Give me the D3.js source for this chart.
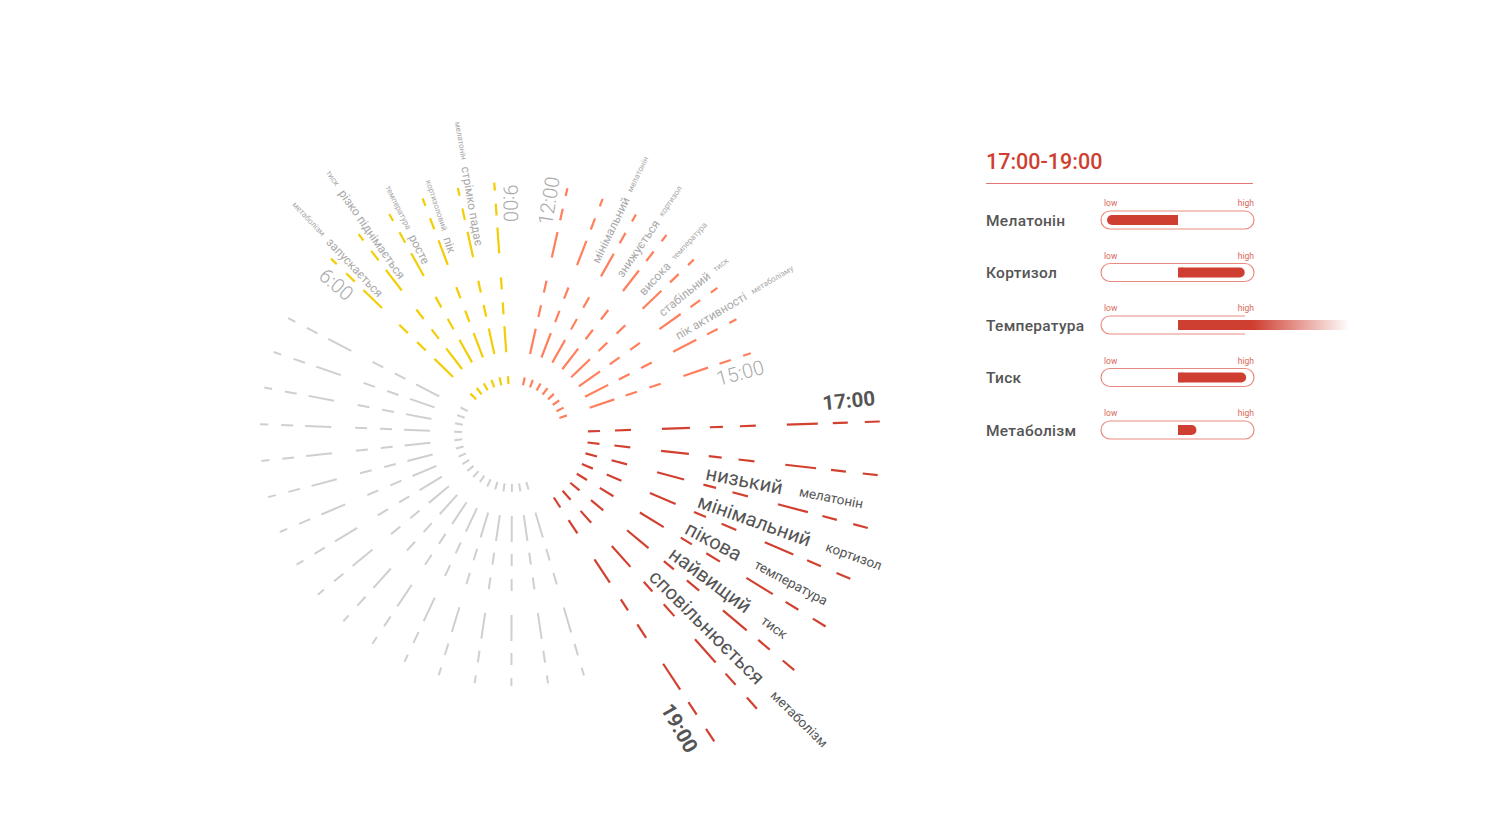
<!DOCTYPE html>
<html><head><meta charset="utf-8">
<script src="https://cdn.jsdelivr.net/npm/d3@7"></script>
<style>
body{margin:0;background:#fff;}
svg{display:block;font-family:Roboto,"Noto Sans",sans-serif;}
</style>
</head><body>
<svg id="chart" width="1496" height="820"></svg>
<script>
// ---------------- DATA ----------------
// periods around the clock, clockwise, starting with the morning
const periodStart  = ["6:00", "12:00", "17:00", "19:00"];
const periodEnd    = ["9:00", "15:00", "19:00", "6:00"];
const periodSpokes = [6, 8, 8, 17];
const periodHasLabels = [true, true, true, false];
const highlightedPeriod = 2;

// state text (big) and metric name (small) for spokes 1..5 of each labelled period
const morningStates  = ["запускається", "різко піднімається", "росте", "пік", "стрімко падає"];
const morningMetrics = ["метаболізм", "тиск", "температура", "кортизоловий", "мелатонін"];
const middayStates   = ["мінімальний", "знижується", "висока", "стабільний", "пік активності"];
const middayMetrics  = ["мелатонін", "кортизол", "температура", "тиск", "метаболізму"];
const eveningStates  = ["низький", "мінімальний", "пікова", "найвищий", "сповільнюється"];
const eveningMetrics = ["мелатонін", "кортизол", "температура", "тиск", "метаболізм"];
const periodStates  = [morningStates, middayStates, eveningStates, []];
const periodMetrics = [morningMetrics, middayMetrics, eveningMetrics, []];

// right panel
const panelTitle  = "17:00-19:00";
const metricNames = ["Мелатонін", "Кортизол", "Температура", "Тиск", "Метаболізм"];
const levelFrom   = [0, 0.5, 0.5, 0.5, 0.5];
const levelTo     = [0.5, 0.97, 1.71, 0.98, 0.63];
const levelNeutral = 0.5;
const scaleLabels = ["low", "high"];

// ---------------- STYLE / GEOMETRY ----------------
const W = 1496, H = 820, cx = 512, cy = 434;
const periodColors = ["#f3cd06", "#ff7f5c", "#d2402f", "#cfcfcf"];
const red = "#cf3f31", trackColor = "#e98a80";
// dash layout of a spoke (radii), normal and highlighted
const dashNormal = [[50,58],[82,108],[120,132],[145,157],[181,207],[219,231],[244,252]];
const dashHigh   = [[76,88],[103,119],[150,178],[198,211],[228,244],[275,306],[321,336],[353,368]];

const svg = d3.select("#chart");
const g = svg.append("g").attr("transform", `translate(${cx},${cy})`);

// slots: each period followed by one empty slot
const totalSlots = d3.sum(periodSpokes) + periodSpokes.length;
const angle = d3.scaleLinear().domain([0, totalSlots]).range([-45.9, -45.9 + 360]);
const rad = d => d * Math.PI / 180;
const px = (a, r) => r * Math.sin(rad(a));
const py = (a, r) => -r * Math.cos(rad(a));

function radialText(text, a, r, opts) {
  let n = ((a + 180) % 360 + 360) % 360 - 180;
  const flip = n < 0.5;
  const gg = g.append("g").attr("transform", `rotate(${a - 90})`);
  const t = gg.append("text").text(text)
    .attr("dominant-baseline", "central")
    .attr("font-size", opts.size)
    .attr("font-weight", opts.weight || 400)
    .attr("fill", opts.fill);
  if (flip) t.attr("transform", "rotate(180)").attr("x", -r).attr("text-anchor", "end");
  else t.attr("x", r).attr("text-anchor", "start");
  return t;
}

let slot = 0;
periodSpokes.forEach((count, p) => {
  const hi = p === highlightedPeriod;
  const dashes = hi ? dashHigh : dashNormal;
  const col = periodColors[p];
  const spokeAngles = d3.range(count).map(i => angle(slot + i));
  spokeAngles.forEach(a => {
    g.append("g").selectAll("line").data(dashes).join("line")
      .attr("x1", d => px(a, d[0])).attr("y1", d => py(a, d[0]))
      .attr("x2", d => px(a, d[1])).attr("y2", d => py(a, d[1]))
      .attr("stroke", col).attr("stroke-width", p === 3 ? 2 : 2.2);
  });
  if (periodHasLabels[p]) {
    // time labels
    const tr = hi ? 312 : 212;
    const tStyle = hi ? {size: 20.5, weight: 700, fill: "#555"} : {size: 20, weight: 300, fill: "#aaaaaa"};
    radialText(periodStart[p], spokeAngles[0] - 3.7, tr, tStyle);
    radialText(periodEnd[p], spokeAngles[count - 1] + 3.7, tr, tStyle);
    // state labels
    const r0 = hi ? 198 : 191, gap = hi ? 17 : 7;
    periodStates[p].forEach((s, k) => {
      const a0 = spokeAngles[k + 1];
      let n = ((a0 + 180) % 360 + 360) % 360 - 180;
      const a = n < 0.5 ? a0 - 5.9 : a0 + 4.8;
      const big = radialText(s, a, r0, hi ? {size: 20, fill: "#555"} : {size: 12, fill: "#a9a9a9"});
      const len = big.node().getComputedTextLength();
      radialText(periodMetrics[p][k], a, r0 + len + gap, hi ? {size: 13.5, fill: "#555"} : {size: 8, fill: "#a9a9a9"});
    });
  }
  slot += count + 1;
});

// ---------------- PANEL ----------------
const panel = svg.append("g");
const px0 = 986, trackX0 = 1101, trackX1 = 1254, trackH = 18, barH = 10;
const xs = d3.scaleLinear().domain([0, 1]).range([1107, 1249]);
const ys = d3.scaleLinear().domain([0, metricNames.length - 1]).range([220, 430]);

panel.append("text").attr("x", px0).attr("y", 169).text(panelTitle)
  .attr("font-size", 21.5).attr("font-weight", 500).attr("fill", red);
panel.append("line").attr("x1", px0).attr("x2", 1253).attr("y1", 183.5).attr("y2", 183.5)
  .attr("stroke", "#e07a70").attr("stroke-width", 1);

const defs = svg.append("defs");
metricNames.forEach((m, i) => {
  const yc = ys(i);
  panel.append("text").attr("x", px0).attr("y", yc + 5.5).text(m)
    .attr("font-size", 15.5).attr("font-weight", 500).attr("fill", "#555").attr("letter-spacing", 0.3);
  panel.append("text").attr("x", trackX0 + 3).attr("y", yc - 14).text(scaleLabels[0])
    .attr("font-size", 8.5).attr("fill", "#d9675c");
  panel.append("text").attr("x", trackX1).attr("y", yc - 14).text(scaleLabels[1])
    .attr("font-size", 8.5).attr("fill", "#d9675c").attr("text-anchor", "end");
  const top = yc - trackH / 2, bot = yc + trackH / 2, hr = trackH / 2;
  const overflow = levelTo[i] > 1;
  if (overflow) {
    panel.append("path")
      .attr("d", `M${trackX1 - 9},${top} H${trackX0 + hr} A${hr},${hr} 0 0 0 ${trackX0 + hr},${bot} H${trackX1 - 9}`)
      .attr("fill", "#fff").attr("stroke", trackColor).attr("stroke-width", 1.2);
  } else {
    panel.append("rect").attr("x", trackX0).attr("y", top).attr("width", trackX1 - trackX0).attr("height", trackH)
      .attr("rx", hr).attr("fill", "#fff").attr("stroke", trackColor).attr("stroke-width", 1.2);
  }
  const x1 = xs(levelFrom[i]), x2 = xs(levelTo[i]);
  if (overflow) {
    const gid = "fade" + i;
    const lg = defs.append("linearGradient").attr("id", gid).attr("gradientUnits", "userSpaceOnUse")
      .attr("x1", x1).attr("x2", x2).attr("y1", 0).attr("y2", 0);
    const solid = (xs(1.03) - x1) / (x2 - x1);
    lg.append("stop").attr("offset", 0).attr("stop-color", red).attr("stop-opacity", 1);
    lg.append("stop").attr("offset", solid).attr("stop-color", red).attr("stop-opacity", 1);
    lg.append("stop").attr("offset", 1).attr("stop-color", red).attr("stop-opacity", 0);
    panel.append("rect").attr("x", x1).attr("y", yc - barH / 2).attr("width", x2 - x1).attr("height", barH)
      .attr("fill", `url(#${gid})`);
  } else {
    panel.append("rect").attr("x", x1).attr("y", yc - barH / 2).attr("width", x2 - x1).attr("height", barH)
      .attr("rx", barH / 2).attr("fill", red);
    // square end at the neutral level
    const sq = levelFrom[i] === levelNeutral ? x1 : x2 - barH / 2;
    panel.append("rect").attr("x", sq).attr("y", yc - barH / 2).attr("width", barH / 2).attr("height", barH)
      .attr("fill", red);
  }
});
</script>
</body></html>
